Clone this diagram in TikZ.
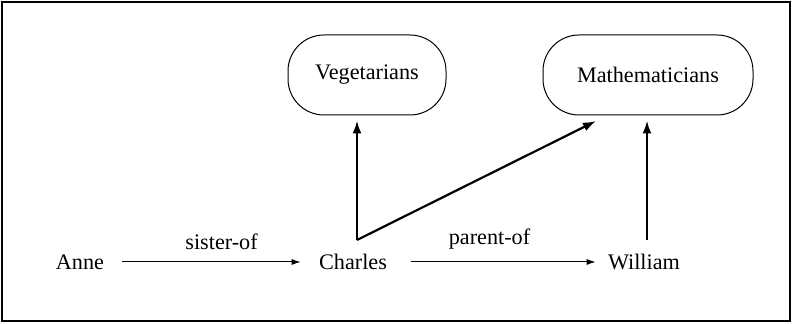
\documentclass[tikz,border=0pt]{standalone}
\usepackage{fontspec}
\setmainfont{Liberation Serif}
\usetikzlibrary{positioning}
\usetikzlibrary{arrows.meta}
\tikzset{cls/.style={draw,line width=0.5pt,rounded corners=18pt,minimum height=40pt,inner sep=0pt}}
\tikzset{ind/.style={inner sep=1pt}}
\tikzset{rel/.style={-{Latex[length=4.5pt,width=3pt]},line width=0.5pt}}
\tikzset{isa/.style={-{Latex[length=6.5pt,width=4.5pt]},line width=1.1pt,shorten >=2.5pt}}
\tikzset{lbl/.style={inner sep=1pt}}

\begin{document}
\begin{tikzpicture}[x=0.5pt,y=-0.5pt,font=\fontsize{11.1}{13}\selectfont]
\useasboundingbox (0,0) rectangle (792,324);
\draw[line width=0.6pt] (2,2) rectangle (790,321);

% classes
\node[cls,minimum width=79pt] (veg) at (367,75) {Vegetarians};
\node[cls,minimum width=105pt] (math) at (648,75) {Mathematicians};

% individuals
\node[ind] (anne) at (80,262) {Anne};
\node[ind] (charles) at (353,262) {Charles};
\node[ind] (william) at (644,262) {William};

\coordinate (fork) at (357,240);
\coordinate (wtop) at (647,240);
\coordinate (mhead) at (596,121);

\draw[rel,shorten <=8pt,shorten >=8pt] (anne) -- node[lbl,above=5pt,xshift=5pt] {sister-of} (charles);
\draw[rel,shorten <=11pt,shorten >=5pt] (charles) -- node[lbl,above=5pt,xshift=-4pt] {parent-of} (william);

\draw[isa] (fork) -- (fork |- veg.south);
\draw[isa,shorten >=0pt] (fork) -- (mhead);
\draw[isa] (wtop) -- (wtop |- math.south);
\end{tikzpicture}
\end{document}
